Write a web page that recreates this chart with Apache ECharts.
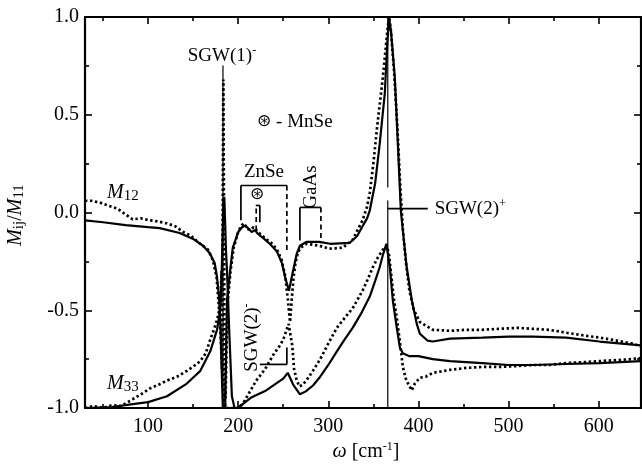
<!DOCTYPE html>
<html>
<head>
<meta charset="utf-8">
<script src="https://cdn.jsdelivr.net/npm/echarts@6/dist/echarts.min.js"></script>
<style>
html, body { margin: 0; padding: 0; background: #fff; }
#chart { width: 642px; height: 474px; }
</style>
</head>
<body>
<div id="chart"></div>
<script>
// tick values
var xTicks = [100, 200, 300, 400, 500, 600];
var xMinorTicks = [50, 150, 250, 350, 450, 550];

// M12 model (solid)
var m12Model = [[30,-0.04],[50,-0.05],[75,-0.065],[100,-0.075],[113,-0.08],[135,-0.105],[150,-0.135],[161,-0.17],[168.7,-0.21],[174,-0.26],[176.5,-0.33],[178.7,-0.43],[180,-0.55],[181.2,-0.72],[182.3,-0.9],[183,-1.0],[185.5,-1.0],[186.5,-0.75],[187.6,-0.45],[191,-0.3],[194,-0.18],[200,-0.1],[204,-0.077],[207.5,-0.067],[211,-0.08],[215,-0.1],[218.6,-0.09],[222,-0.11],[227.5,-0.13],[235,-0.16],[243,-0.2],[248.6,-0.26],[252,-0.33],[256.3,-0.40],[260.8,-0.3],[265,-0.21],[268.5,-0.17],[276,-0.15],[290,-0.15],[302,-0.16],[324,-0.155],[332,-0.12],[338,-0.07],[343,-0.03],[346,0.01],[352,0.15],[357,0.35],[362.7,0.61],[365.5,0.87],[367.5,0.99],[369.5,0.93],[373.8,0.69],[377.2,0.35],[380.5,0.01],[382,-0.06],[387,-0.28],[392.7,-0.45],[398.2,-0.57],[401.6,-0.62],[410,-0.655],[416,-0.66],[435,-0.645],[471,-0.64],[500,-0.635],[527,-0.635],[564,-0.64],[601,-0.66],[647,-0.68]];

// M12 measured (dotted)
var m12Data = [[30,0.06],[37,0.06],[47,0.05],[56,0.035],[66,0.02],[75,-0.01],[83,-0.035],[92,-0.03],[102,-0.04],[110,-0.045],[121,-0.056],[130,-0.07],[139,-0.1],[148,-0.12],[155,-0.15],[166.5,-0.19],[172,-0.245],[176,-0.33],[178.5,-0.48],[180.5,-0.62],[182,-0.8],[183,0.2],[183.5,0.68],[184,0.2],[185,-0.9],[186,-0.95],[187,-0.7],[188.5,-0.45],[191.5,-0.3],[195,-0.18],[200,-0.1],[203,-0.07],[206,-0.055],[208,-0.06],[211,-0.085],[214,-0.09],[217,-0.075],[219,-0.07],[222,-0.1],[227,-0.12],[232,-0.14],[238,-0.16],[243,-0.19],[248,-0.24],[252,-0.32],[255,-0.44],[257.5,-0.56],[259.5,-0.44],[261.5,-0.33],[263.5,-0.26],[266,-0.21],[269,-0.18],[276,-0.16],[290,-0.17],[301,-0.185],[316,-0.18],[327,-0.14],[338,-0.04],[343,0.03],[346,0.1],[350,0.25],[354,0.43],[360.5,0.69],[366,0.95],[367.5,1.0],[369.5,0.93],[373,0.72],[376.5,0.45],[380,0.12],[383,-0.1],[386,-0.25],[390,-0.4],[395,-0.5],[401.6,-0.56],[416,-0.6],[435,-0.605],[453,-0.6],[470,-0.6],[490,-0.595],[510,-0.59],[527,-0.595],[545,-0.6],[564.5,-0.615],[585,-0.63],[601,-0.64],[620,-0.655],[637,-0.67],[647,-0.685]];

// M33 model (solid)
var m33Model = [[30,-1.0],[60,-0.995],[83,-0.98],[100,-0.97],[121,-0.94],[143,-0.875],[158,-0.81],[169,-0.71],[176.5,-0.6],[180,-0.5],[181.5,-0.35],[182.5,-0.15],[183.5,0.05],[184.5,0.08],[185.5,-0.05],[186.5,-0.2],[187.6,-0.3],[190,-0.6],[193,-0.94],[196,-1.0],[199,-1.0],[205,-0.98],[215,-0.945],[231,-0.91],[250,-0.85],[255,-0.82],[257,-0.84],[261,-0.88],[268.5,-0.93],[275,-0.915],[283,-0.885],[291,-0.84],[300,-0.78],[309.5,-0.71],[318,-0.65],[327,-0.59],[336,-0.52],[346,-0.43],[352,-0.35],[357,-0.28],[361,-0.21],[364.5,-0.16],[366,-0.17],[368.3,-0.28],[371.6,-0.45],[376,-0.59],[379.4,-0.69],[382.7,-0.72],[390,-0.735],[400,-0.735],[416,-0.75],[435,-0.76],[471,-0.77],[500,-0.78],[527,-0.78],[564,-0.775],[601,-0.77],[647,-0.76]];

// M33 measured (dotted)
var m33Data = [[30,-1.0],[40,-0.99],[50,-1.0],[60,-0.985],[70,-0.99],[83,-0.955],[92,-0.93],[102,-0.9],[112,-0.88],[121,-0.86],[132,-0.84],[143,-0.81],[151,-0.785],[158,-0.76],[164,-0.72],[169,-0.65],[173,-0.6],[176.5,-0.55],[179,-0.5],[180.5,-0.45],[181.5,-0.3],[182.2,-0.6],[183,-0.85],[184.5,-0.95],[186,-1.0],[190,-1.0],[200,-1.0],[205,-0.98],[210,-0.94],[215,-0.9],[220,-0.86],[225,-0.83],[230,-0.8],[235,-0.76],[240,-0.72],[245,-0.69],[250,-0.65],[253,-0.61],[256,-0.57],[258,-0.56],[260,-0.68],[262,-0.8],[265,-0.86],[268,-0.89],[272,-0.88],[277,-0.85],[283,-0.81],[291,-0.75],[300,-0.67],[309.5,-0.59],[318,-0.54],[327,-0.49],[338,-0.4],[344,-0.34],[349.4,-0.28],[355,-0.23],[360.5,-0.19],[365,-0.17],[367.5,-0.22],[370.5,-0.35],[373,-0.45],[376,-0.54],[379.4,-0.66],[382.7,-0.79],[386,-0.85],[389,-0.88],[392.7,-0.91],[396,-0.875],[401.6,-0.845],[408,-0.84],[416,-0.82],[435,-0.805],[453,-0.795],[471,-0.79],[490,-0.79],[510,-0.785],[527,-0.78],[545,-0.78],[564,-0.77],[585,-0.765],[601,-0.76],[620,-0.755],[637,-0.75],[647,-0.745]];

var FONT = '"Liberation Serif", "Times New Roman", "DejaVu Serif", serif';

var chart = echarts.init(document.getElementById('chart'));

function xAxisOf(pos, ticks, len, showLine, showLabel) {
    return {
        type: 'value', min: 30, max: 647, position: pos,
        axisLine: {show: showLine, onZero: false, lineStyle: {color: '#000', width: 2.2}},
        axisTick: {show: true, inside: true, length: len, customValues: ticks,
            lineStyle: {color: '#000', width: 1.6}},
        axisLabel: {show: showLabel, customValues: ticks, color: '#000',
            fontFamily: FONT, fontSize: 20, margin: 9},
        splitLine: {show: false}
    };
}

function yAxisOf(pos, showLabel) {
    return {
        type: 'value', min: -1, max: 1, interval: 0.5, position: pos,
        axisLine: {show: true, onZero: false, lineStyle: {color: '#000', width: 2.2}},
        axisTick: {show: true, inside: true, length: 7, lineStyle: {color: '#000', width: 1.6}},
        minorTick: {show: true, splitNumber: 2, length: 4, lineStyle: {color: '#000', width: 1.6}},
        axisLabel: {show: showLabel, color: '#000', fontFamily: FONT, fontSize: 20, margin: 6,
            formatter: function (v) { return v.toFixed(1); }},
        splitLine: {show: false}
    };
}

var solid = {color: '#000', width: 2.2};
var dotted = {color: '#000', width: 2.7, type: [2.4, 2.6], cap: 'butt'};

var option = {
    animation: false,
    backgroundColor: '#fff',
    grid: {left: 85, right: 1, top: 17, bottom: 66, containLabel: false},
    xAxis: [
        xAxisOf('bottom', xTicks, 7, true, true),
        xAxisOf('top', xTicks, 7, true, false),
        xAxisOf('bottom', xMinorTicks, 4, false, false),
        xAxisOf('top', xMinorTicks, 4, false, false)
    ],
    yAxis: [
        yAxisOf('left', true),
        yAxisOf('right', false)
    ],
    series: [
        {name: 'M12 model', type: 'line', data: m12Model, showSymbol: false, lineStyle: solid, z: 3},
        {name: 'M33 model', type: 'line', data: m33Model, showSymbol: false, lineStyle: solid, z: 3},
        {name: 'M12 data', type: 'line', data: m12Data, showSymbol: false, lineStyle: dotted, z: 4},
        {name: 'M33 data', type: 'line', data: m33Data, showSymbol: false, lineStyle: dotted, z: 4}
    ]
};
chart.setOption(option);

// annotations, placed in data coordinates
function P(x, y) { return chart.convertToPixel({seriesIndex: 0}, [x, y]); }

function seg(x1, y1, x2, y2, dashed, w) {
    var a = P(x1, y1), b = P(x2, y2);
    return {type: 'line', z: 10, silent: true,
        shape: {x1: a[0], y1: a[1], x2: b[0], y2: b[1]},
        style: {stroke: '#000', lineWidth: w || 1.7, lineDash: dashed ? [5, 3.5] : null}};
}

var rich = {
    b: {fontFamily: FONT, fontSize: 19, lineHeight: 22, fill: '#000'},
    star: {fontFamily: '"DejaVu Sans", sans-serif', fontSize: 17, lineHeight: 22, fill: '#000'},
    sup: {fontFamily: FONT, fontSize: 12, lineHeight: 12, verticalAlign: 'top', fill: '#000'},
    m: {fontFamily: FONT, fontSize: 20, fontStyle: 'italic', lineHeight: 22, fill: '#000'},
    sub: {fontFamily: FONT, fontSize: 15, lineHeight: 6, verticalAlign: 'bottom', fill: '#000'},
    n: {fontFamily: FONT, fontSize: 20, lineHeight: 22, fill: '#000'}
};

function txt(x, y, text, align, rot) {
    var p = P(x, y);
    return {type: 'text', z: 11, silent: true, x: p[0], y: p[1], rotation: rot || 0,
        style: {text: text, rich: rich, align: align || 'center', verticalAlign: 'middle',
            fontFamily: FONT, fontSize: 19, fill: '#000'}};
}

var g = [];
// SGW(1)-
g.push(seg(183.1, 0.752, 183.1, -1.0, false, 1.2));
g.push(txt(182, 0.80, '{b|SGW(1)}{sup|-}'));
// MnSe legend
g.push(txt(221, 0.465, '{star|\u229B}{b| - MnSe}', 'left'));
// ZnSe bracket
g.push(txt(228.6, 0.205, '{b|ZnSe}'));
g.push(seg(203, 0.138, 254, 0.138));
g.push(seg(203, 0.138, 203, -0.04));
g.push(seg(254, 0.138, 254, -0.205, true));
g.push(txt(221, 0.092, '{star|\u229B}'));
g.push(seg(219.5, 0.036, 224, 0.036));
g.push(seg(224, 0.036, 224, -0.05));
g.push(seg(220, 0.02, 220, -0.10, true));
// GaAs bracket
g.push(txt(280.7, 0.13, '{b|GaAs}', 'center', Math.PI / 2));
g.push(seg(268.5, 0.026, 291.8, 0.026));
g.push(seg(268.5, 0.026, 268.5, -0.143));
g.push(seg(291.8, 0.026, 291.8, -0.133, true));
// SGW(2)+
g.push(seg(366, 1.0, 366, 0.128, false, 1.2));
g.push(seg(366, 0.061, 366, -1.0, false, 1.2));
g.push(seg(366, 0.02, 410.4, 0.02));
g.push(txt(418, 0.02, '{b|SGW(2)}{sup|+}', 'left'));
// SGW(2)-
g.push(txt(215.5, -0.64, '{b|SGW(2)}{sup|-}', 'center', Math.PI / 2));
g.push(seg(224, -0.777, 254, -0.777));
g.push(seg(254, -0.777, 254, -0.69));
// curve labels
g.push(txt(54.5, 0.10, '{m|M}{sub|12}', 'left'));
g.push(txt(54.5, -0.875, '{m|M}{sub|33}', 'left'));
// axis titles
g.push({type: 'text', z: 11, silent: true, x: 16, y: 215, rotation: Math.PI / 2,
    style: {text: '{m|M}{sub|ij}{n|/}{m|M}{sub|11}', rich: rich, align: 'center', verticalAlign: 'middle'}});
g.push({type: 'text', z: 11, silent: true, x: 366, y: 452,
    style: {text: '{m|\u03C9}{n| [cm}{sup|-1}{n|]}', rich: rich, align: 'center', verticalAlign: 'middle'}});

chart.setOption({graphic: g});
</script>
</body>
</html>
